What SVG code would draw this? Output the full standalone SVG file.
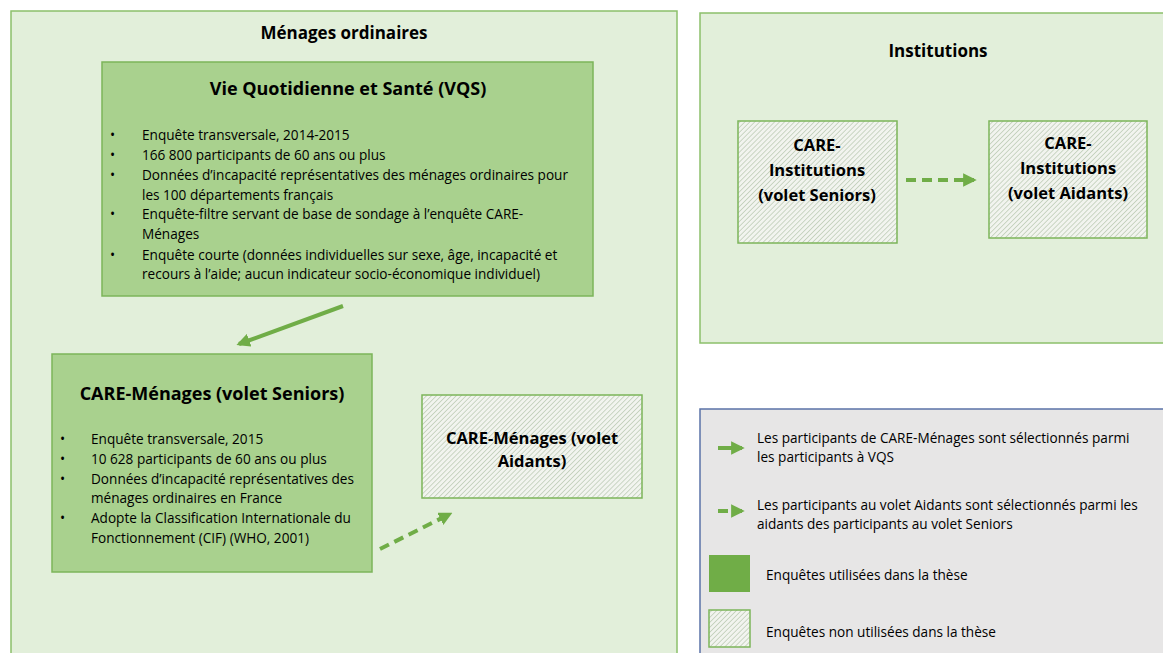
<svg xmlns="http://www.w3.org/2000/svg" width="1163" height="653" viewBox="0 0 1163 653">
<defs>
<pattern id="hatch" patternUnits="userSpaceOnUse" width="3.5" height="3.5" patternTransform="rotate(45)">
<rect width="3.5" height="3.5" fill="#f2f4ef"/>
<line x1="0" y1="0" x2="0" y2="3.5" stroke="#b9c9b0" stroke-width="1.4"/>
</pattern>
<marker id="ah" viewBox="0 0 10 10" refX="8" refY="5" markerWidth="3.4" markerHeight="3.4" orient="auto" markerUnits="strokeWidth">
<path d="M0,0 L10,5 L0,10 z" fill="#70ad47"/>
</marker>
</defs>
<style>
.region{fill:#e2efda;stroke:#8cc06b;stroke-width:1.5}
.used{fill:#a9d18e;stroke:#7cb55a;stroke-width:1.5}
.unused{fill:url(#hatch);stroke:#7cb55a;stroke-width:1.5}
.t{font-family:"Open Sans","Noto Sans",sans-serif;fill:#000}
.h{font-weight:700;text-anchor:middle}
.b{font-size:13.6px}
.conn{stroke:#70ad47;stroke-width:4;fill:none}
.dash{stroke-dasharray:10,6}
</style>
<rect x="0" y="0" width="1163" height="653" fill="#ffffff"/>

<g id="menages">
<rect class="region" x="11" y="11" width="666" height="650"/>
<text class="t h" x="344" y="39" font-size="17">Ménages ordinaires</text>
</g>

<g id="vqs">
<rect class="used" x="102" y="62" width="491" height="234"/>
<text class="t h" x="348" y="95" font-size="18">Vie Quotidienne et Santé (VQS)</text>
<g class="t b">
<text x="110" y="140">•</text><text x="142" y="140">Enquête transversale, 2014-2015</text>
<text x="110" y="160">•</text><text x="142" y="160">166 800 participants de 60 ans ou plus</text>
<text x="110" y="180">•</text><text x="142" y="180">Données d’incapacité représentatives des ménages ordinaires pour</text>
<text x="142" y="200">les 100 départements français</text>
<text x="110" y="219">•</text><text x="142" y="219">Enquête-filtre servant de base de sondage à l’enquête CARE-</text>
<text x="142" y="239">Ménages</text>
<text x="110" y="260">•</text><text x="142" y="260">Enquête courte (données individuelles sur sexe, âge, incapacité et</text>
<text x="142" y="279">recours à l’aide; aucun indicateur socio-économique individuel)</text>
</g>
</g>

<g id="care-menages-seniors">
<rect class="used" x="52" y="354" width="320" height="218"/>
<text class="t h" x="212" y="400" font-size="18">CARE-Ménages (volet Seniors)</text>
<g class="t b">
<text x="60" y="444">•</text><text x="91" y="444">Enquête transversale, 2015</text>
<text x="60" y="464">•</text><text x="91" y="464">10 628 participants de 60 ans ou plus</text>
<text x="60" y="484">•</text><text x="91" y="484">Données d’incapacité représentatives des</text>
<text x="91" y="503">ménages ordinaires en France</text>
<text x="60" y="523">•</text><text x="91" y="523">Adopte la Classification Internationale du</text>
<text x="91" y="543">Fonctionnement (CIF) (WHO, 2001)</text>
</g>
</g>

<g id="care-menages-aidants">
<rect class="unused" x="422" y="395" width="220" height="103"/>
<text class="t h" x="532" y="444" font-size="16.5">CARE-Ménages (volet</text>
<text class="t h" x="532" y="467" font-size="16.5">Aidants)</text>
</g>

<g id="institutions">
<rect class="region" x="700" y="13" width="470" height="330"/>
<text class="t h" x="938" y="57" font-size="17">Institutions</text>
</g>

<g id="care-inst-seniors">
<rect class="unused" x="738" y="121" width="159" height="122"/>
<text class="t h" x="817" y="151" font-size="16.5">CARE-</text>
<text class="t h" x="817" y="176" font-size="16.5">Institutions</text>
<text class="t h" x="817" y="201" font-size="16.5">(volet Seniors)</text>
</g>

<g id="care-inst-aidants">
<rect class="unused" x="989" y="121" width="158" height="117"/>
<text class="t h" x="1068" y="149" font-size="16.5">CARE-</text>
<text class="t h" x="1068" y="174" font-size="16.5">Institutions</text>
<text class="t h" x="1068" y="199" font-size="16.5">(volet Aidants)</text>
</g>

<g id="connectors">
<line class="conn" x1="343" y1="306" x2="239" y2="344" marker-end="url(#ah)"/>
<line class="conn dash" x1="380" y1="549" x2="450" y2="514" marker-end="url(#ah)"/>
<line class="conn dash" x1="906" y1="180" x2="974" y2="180" marker-end="url(#ah)"/>
</g>

<g id="legend">
<rect x="700" y="409" width="470" height="250" fill="#e7e6e6" stroke="#5b73a8" stroke-width="1.5"/>
<line class="conn" x1="718" y1="448" x2="742" y2="448" marker-end="url(#ah)"/>
<text class="t b" x="757" y="443">Les participants de CARE-Ménages sont sélectionnés parmi</text>
<text class="t b" x="757" y="462">les participants à VQS</text>
<line class="conn" x1="718" y1="511" x2="728" y2="511"/>
<line class="conn" x1="733" y1="511" x2="742" y2="511" marker-end="url(#ah)"/>
<text class="t b" x="757" y="510">Les participants au volet Aidants sont sélectionnés parmi les</text>
<text class="t b" x="757" y="529">aidants des participants au volet Seniors</text>
<rect x="709" y="555" width="41" height="37" fill="#70ad47"/>
<rect class="unused" x="709" y="610" width="41" height="37"/>
<text class="t b" x="766" y="580">Enquêtes utilisées dans la thèse</text>
<text class="t b" x="766" y="637">Enquêtes non utilisées dans la thèse</text>
</g>
</svg>
